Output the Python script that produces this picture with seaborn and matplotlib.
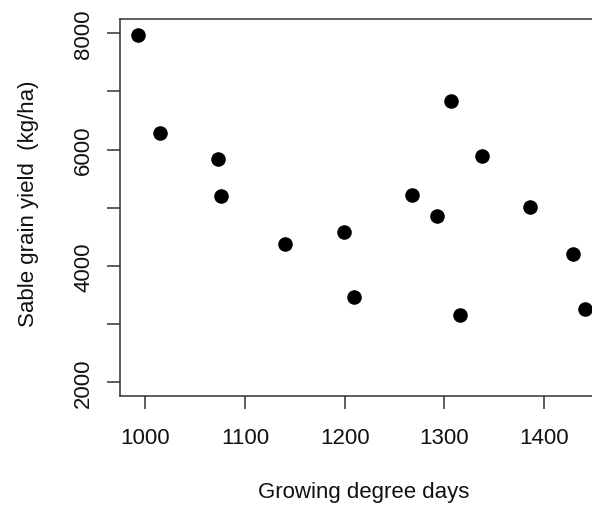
import matplotlib
matplotlib.use("Agg")
import matplotlib.pyplot as plt
import seaborn as sns
import pandas as pd

# Growing degree days vs. Sable grain yield
gdd = [992.7, 1014.7, 1072.9, 1075.9, 1140.0, 1199.0, 1209.0, 1267.5,
       1292.3, 1306.6, 1315.6, 1337.4, 1385.9, 1429.3, 1441.0]
grain_yield = [7978, 6289, 5842, 5200, 4370, 4588, 3471, 5224,
               4868, 6832, 3162, 5887, 5011, 4203, 3253]

x_ticks = [1000, 1100, 1200, 1300, 1400]
y_ticks = [2000, 3000, 4000, 5000, 6000, 7000, 8000]
y_tick_labels = ["2000", "", "4000", "", "6000", "", "8000"]

df = pd.DataFrame({"gdd": gdd, "grain_yield": grain_yield})

sns.set_style("white")
plt.rcParams["font.family"] = ["Liberation Sans", "DejaVu Sans"]

fig = plt.figure(figsize=(5.92, 5.06), dpi=100)
ax = fig.add_axes([0.2032, 0.2148, 0.8154, 0.745])

sns.scatterplot(data=df, x="gdd", y="grain_yield", ax=ax,
                color="black", s=110, linewidth=0, legend=False)

ax.set_xlim(974.9, 1459.0)
ax.set_ylim(1760, 8240)
ax.set_xticks(x_ticks)
ax.set_xticklabels([str(t) for t in x_ticks])
ax.set_yticks(y_ticks)
ax.set_yticklabels(y_tick_labels)

axis_color = "#333333"
for side in ["left", "bottom", "top", "right"]:
    ax.spines[side].set_visible(True)
    ax.spines[side].set_color(axis_color)
    ax.spines[side].set_linewidth(1.1)

ax.tick_params(axis="both", direction="out", length=9.4, width=1.1,
               color=axis_color, labelsize=16, labelcolor="#111111",
               bottom=True, left=True, top=False, right=False)
ax.tick_params(axis="x", pad=12.5)
ax.tick_params(axis="y", pad=9.5, labelrotation=90)
for lbl in ax.get_yticklabels():
    lbl.set_va("center")

ax.set_xlabel("Growing degree days", fontsize=16, color="#111111")
ax.set_ylabel("Sable grain yield  (kg/ha)", fontsize=16, color="#111111")
ax.xaxis.set_label_coords(0.505, -0.252)
ax.xaxis.label.set_va("center")
ax.yaxis.set_label_coords(-0.190, 0.513)
ax.yaxis.label.set_va("center")

fig.savefig("out.png", dpi=100, facecolor="white")
